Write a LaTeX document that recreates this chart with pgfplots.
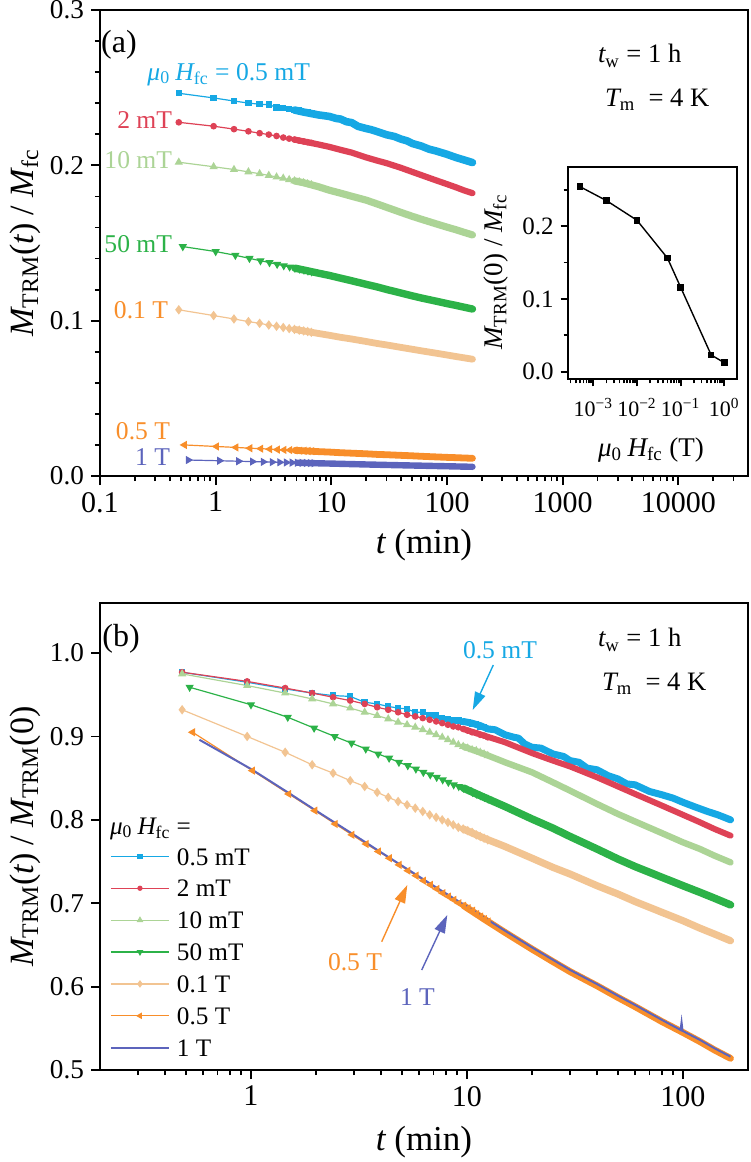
\documentclass[border=0pt]{standalone}
\usepackage{fontspec}
\setmainfont{Liberation Serif}
\usepackage{pgfplots}
\pgfplotsset{compat=1.18}
\usetikzlibrary{arrows.meta}
\definecolor{cA}{RGB}{22,168,228}
\definecolor{cB}{RGB}{222,66,86}
\definecolor{cC}{RGB}{172,212,150}
\definecolor{cD}{RGB}{44,178,72}
\definecolor{cE}{RGB}{242,196,146}
\definecolor{cF}{RGB}{248,142,42}
\definecolor{cG}{RGB}{92,100,188}
\newcommand{\fs}[1]{\fontsize{#1pt}{#1pt}\selectfont}
\newcommand{\muH}{{\itshape μ}\textsubscript{0}\hspace{0.2em}{\itshape H}\textsubscript{fc}}
\newcommand{\lgt}[1]{\fs{12.6}#1}
\pgfplotsset{
  myax/.style={scale only axis, anchor=south west,
    axis line style={line width=0.9pt},
    every tick/.style={black, line width=0.9pt},
    tick align=outside, xtick pos=left, ytick pos=left,
    major tick length=4.5pt, minor tick length=2.6pt,
    xticklabel style={font=\fs{15}},
    yticklabel style={font=\fs{13.6}},
  },
  band/.style={line width=#1, line cap=round, line join=round, forget plot, mark=none},
  ser/.style={line width=0.6pt},
  mA/.style={mark=square*, mark size=1.3pt},
  mB/.style={mark=*, mark size=1.35pt},
  mC/.style={mark=triangle*, mark size=1.8pt},
  mD/.style={mark=triangle*, mark size=1.8pt, mark options={rotate=180}},
  mE/.style={mark=diamond*, mark size=1.9pt},
  mF/.style={mark=triangle*, mark size=1.8pt, mark options={rotate=90}},
  mG/.style={mark=triangle*, mark size=1.8pt, mark options={rotate=-90}},
}
\begin{document}
\begin{tikzpicture}
\path[use as bounding box] (0,0) rectangle (375pt,-581pt);
% ---------------- panel (a)
\begin{axis}[myax, at={(50pt,-238pt)}, width=324pt, height=233pt,
  xmode=log, xmin=0.1, xmax=40000, ymin=0, ymax=0.3,
  xtick={0.1,1,10,100,1000,10000}, xticklabels={0.1,1,10,100,1000,10000},
  minor xtick={0.2,0.3,0.4,0.5,0.6,0.7,0.8,0.9,2,3,4,5,6,7,8,9,20,30,40,50,60,70,80,90,200,300,400,500,600,700,800,900,2000,3000,4000,5000,6000,7000,8000,9000,20000,30000},
  ytick={0,0.1,0.2,0.3}, yticklabels={0.0,0.1,0.2,0.3},
  minor ytick={0.02,0.04,0.06,0.08,0.12,0.14,0.16,0.18,0.22,0.24,0.26,0.28},
]
\addplot[cA, ser, mA] coordinates {(0.48,0.2464) (0.96,0.2434) (1.44,0.2414) (1.92,0.2401) (2.40,0.2393) (2.88,0.2391) (3.36,0.2373) (3.84,0.2368) (4.32,0.2361) (4.80,0.2356) (5.28,0.2353) (5.76,0.2343) (6.24,0.2343) (6.72,0.2335)};
\addplot[cA, band=3.8pt] coordinates {(4.80,0.2356) (5.76,0.2343) (7.68,0.2325) (9.6,0.2315) (11,0.2302) (12,0.2298) (13.5,0.2281) (15,0.2275) (17,0.2251) (20,0.2237) (22,0.2230) (25,0.2217) (30,0.2197) (35,0.2186) (40,0.2169) (45,0.2158) (50,0.2141) (60,0.2124) (70,0.2104) (80,0.2093) (100,0.2071) (120,0.2050) (140,0.2035) (166,0.2018)};
\addplot[cB, ser, mB] coordinates {(0.48,0.2277) (0.96,0.2252) (1.44,0.2233) (1.92,0.2219) (2.40,0.2207) (2.88,0.2198) (3.36,0.2189) (3.84,0.2179) (4.32,0.2172) (4.80,0.2166) (5.28,0.2159) (5.76,0.2154) (6.24,0.2149) (6.72,0.2145)};
\addplot[cB, band=3.1pt] coordinates {(4.80,0.2166) (5.76,0.2154) (7.68,0.2135) (9.6,0.2119) (12,0.2100) (15,0.2082) (20,0.2051) (25,0.2030) (30,0.2014) (40,0.1984) (50,0.1958) (60,0.1937) (80,0.1904) (100,0.1879) (120,0.1858) (140,0.1839) (166,0.1821)};
\addplot[cC, ser, mC] coordinates {(0.48,0.2020) (0.96,0.1991) (1.44,0.1973) (1.92,0.1958) (2.40,0.1946) (2.88,0.1935) (3.36,0.1925) (3.84,0.1917) (4.32,0.1908) (4.80,0.1900) (5.28,0.1894) (5.76,0.1888) (6.24,0.1881) (6.72,0.1875)};
\addplot[cC, band=3.6pt] coordinates {(4.80,0.1900) (5.76,0.1888) (7.68,0.1863) (9.6,0.1840) (12,0.1821) (15,0.1801) (20,0.1776) (25,0.1751) (30,0.1730) (40,0.1697) (50,0.1672) (60,0.1653) (80,0.1624) (100,0.1602) (120,0.1585) (140,0.1569) (166,0.1552)};
\addplot[cD, ser, mD] coordinates {(0.52,0.1477) (1.00,0.1445) (1.48,0.1421) (1.96,0.1401) (2.44,0.1386) (2.92,0.1374) (3.40,0.1363) (3.88,0.1354) (4.36,0.1346) (4.84,0.1338) (5.32,0.1332) (5.80,0.1326) (6.28,0.1320) (6.76,0.1315)};
\addplot[cD, band=3.7pt] coordinates {(4.84,0.1338) (5.80,0.1326) (7.72,0.1306) (9.64,0.1291) (12,0.1274) (15,0.1257) (20,0.1234) (25,0.1217) (30,0.1201) (40,0.1178) (50,0.1160) (60,0.1146) (80,0.1126) (100,0.1110) (120,0.1098) (140,0.1087) (166,0.1075)};
\addplot[cE, ser, mE] coordinates {(0.48,0.1070) (0.96,0.1033) (1.44,0.1011) (1.92,0.0994) (2.40,0.0983) (2.88,0.0972) (3.36,0.0964) (3.84,0.0956) (4.32,0.0949) (4.80,0.0944) (5.28,0.0939) (5.76,0.0934) (6.24,0.0930) (6.72,0.0925)};
\addplot[cE, band=3.4pt] coordinates {(4.80,0.0944) (5.76,0.0934) (7.68,0.0918) (9.6,0.0906) (12,0.0893) (15,0.0882) (20,0.0866) (25,0.0853) (30,0.0844) (40,0.0828) (50,0.0816) (60,0.0806) (80,0.0791) (100,0.0779) (120,0.0769) (140,0.0761) (166,0.0752)};
\addplot[cF, ser, mF] coordinates {(0.537,0.0200) (1.017,0.0190) (1.497,0.0184) (1.977,0.0179) (2.457,0.0176) (2.937,0.0173) (3.417,0.0170) (3.897,0.0168) (4.377,0.0167) (4.857,0.0165) (5.337,0.0163) (5.817,0.0162) (6.297,0.0161) (6.777,0.0160)};
\addplot[cF, band=3.4pt] coordinates {(4.857,0.0165) (5.817,0.0162) (7.74,0.0157) (9.66,0.0154) (12,0.0150) (15,0.0147) (20,0.0143) (25,0.0139) (30,0.0137) (40,0.0133) (50,0.0130) (60,0.0127) (80,0.0123) (100,0.0120) (120,0.0118) (140,0.0116) (166,0.0114)};
\addplot[cG, ser, mG] coordinates {(0.58,0.01029) (1.08,0.00983) (1.58,0.00951) (2.08,0.00928) (2.58,0.00909) (3.08,0.00894) (3.58,0.00882) (4.08,0.00871) (4.58,0.00862) (5.08,0.00854) (5.58,0.00846) (6.08,0.00839) (6.58,0.00833) (7.08,0.00828)};
\addplot[cG, band=3.2pt] coordinates {(5.08,0.00854) (6.08,0.00839) (8,0.00815) (10,0.00800) (12,0.00784) (15,0.00766) (20,0.00743) (25,0.00726) (30,0.00712) (40,0.00692) (50,0.00676) (60,0.00664) (80,0.00643) (100,0.00628) (120,0.00615) (140,0.00604) (166,0.00592)};
\end{axis}
% ---------------- inset
\begin{axis}[myax, at={(283.85pt,-189.65pt)}, width=84.5pt, height=106.3pt,
  xmode=log, xmin=2.6e-4, xmax=1.92, ymin=-0.0104, ymax=0.2815,
  major tick length=3.5pt, minor tick length=2pt,
  xticklabel style={font=\fs{11}, yshift=-2.5pt},
  yticklabel style={font=\fs{12.5}},
  xtick={1e-3,1e-2,1e-1,1}, xticklabels={10\textsuperscript{−3},10\textsuperscript{−2},10\textsuperscript{−1},10\textsuperscript{0}},
  minor xtick={3e-4,4e-4,5e-4,6e-4,7e-4,8e-4,9e-4,2e-3,3e-3,4e-3,5e-3,6e-3,7e-3,8e-3,9e-3,0.02,0.03,0.04,0.05,0.06,0.07,0.08,0.09,0.2,0.3,0.4,0.5,0.6,0.7,0.8,0.9},
  ytick={0,0.1,0.2}, yticklabels={0.0,0.1,0.2}, minor ytick={0.05,0.15,0.25},
]
\addplot[black, line width=0.7pt, mark=square*, mark size=1.3pt] coordinates {(5e-4,0.254) (2e-3,0.235) (1e-2,0.208) (5e-2,0.156) (0.1,0.116) (0.5,0.023) (1,0.0124)};
\end{axis}
% ---------------- panel (b)
\begin{axis}[myax, at={(50pt,-535pt)}, width=324pt, height=233.5pt,
  xmode=log, xmin=0.2, xmax=200, ymin=0.5, ymax=1.06,
  xtick={1,10,100}, xticklabels={1,10,100},
  minor xtick={0.3,0.4,0.5,0.6,0.7,0.8,0.9,2,3,4,5,6,7,8,9,20,30,40,50,60,70,80,90},
  ytick={0.5,0.6,0.7,0.8,0.9,1.0}, yticklabels={0.5,0.6,0.7,0.8,0.9,1.0},
  legend cell align=left,
  legend image code/.code={\draw[mark repeat=2,mark phase=2,#1,every mark/.append style={scale=0.75}] plot coordinates {(0pt,0pt) (14.5pt,0pt) (29pt,0pt)};},
  legend style={draw=none, fill=none, inner sep=0pt, outer sep=0pt, row sep=7.25pt,
    font=\fs{12.6}, nodes={inner sep=0pt, outer sep=0pt, text height=8.7pt, text depth=0pt},
    at={(axis description cs:0.0154,0.4762)}, anchor=north west,
    /tikz/every odd column/.append style={column sep=3.5pt}},
]
\addplot[cA, ser, mA] coordinates {(0.48,0.977) (0.96,0.965) (1.44,0.957) (1.92,0.952) (2.40,0.949) (2.88,0.948) (3.36,0.941) (3.84,0.939) (4.32,0.936) (4.80,0.934) (5.28,0.933) (5.76,0.929) (6.24,0.929) (6.72,0.926) (7.20,0.925) (7.68,0.922) (8.16,0.921) (8.64,0.919) (9.12,0.919) (9.60,0.917) (10.08,0.917) (10.56,0.915) (11.04,0.915) (11.52,0.912) (12.0,0.911) (12.48,0.909)};
\addlegendentry{\lgt{0.5 mT}}
\addplot[cA, band=3.5pt] coordinates {(9.6,0.918) (10.5,0.916) (11.5,0.913) (12.5,0.909) (13.5,0.908) (15,0.902) (16.5,0.899) (17.3,0.898) (18.5,0.891) (20,0.887) (22,0.886) (25,0.879) (28,0.876) (30,0.871) (33,0.869) (36,0.862) (40,0.860) (45,0.853) (50,0.849) (55,0.843) (60,0.842) (70,0.834) (80,0.830) (90,0.826) (100,0.821) (115,0.815) (130,0.810) (145,0.806) (166,0.800)};
\addplot[cB, ser, mB] coordinates {(0.48,0.977) (0.96,0.966) (1.44,0.958) (1.92,0.952) (2.40,0.947) (2.88,0.943) (3.36,0.939) (3.84,0.935) (4.32,0.932) (4.80,0.929) (5.28,0.926) (5.76,0.924) (6.24,0.922) (6.72,0.920) (7.20,0.918) (7.68,0.916) (8.16,0.914) (8.64,0.912) (9.12,0.911) (9.60,0.909) (10.08,0.907) (10.56,0.905) (11.04,0.904) (11.52,0.902) (12.0,0.901) (12.48,0.899)};
\addlegendentry{\lgt{2 mT}}
\addplot[cB, band=3pt] coordinates {(9.6,0.909) (12,0.901) (15,0.893) (20,0.880) (25,0.871) (30,0.864) (40,0.851) (50,0.840) (60,0.831) (80,0.817) (100,0.806) (120,0.797) (140,0.789) (166,0.781)};
\addplot[cC, ser, mC] coordinates {(0.48,0.975) (0.96,0.961) (1.44,0.952) (1.92,0.945) (2.40,0.939) (2.88,0.934) (3.36,0.929) (3.84,0.925) (4.32,0.921) (4.80,0.917) (5.28,0.914) (5.76,0.911) (6.24,0.908) (6.72,0.905) (7.20,0.902) (7.68,0.899) (8.16,0.896) (8.64,0.893) (9.12,0.890) (9.60,0.888) (10.08,0.886) (10.56,0.884) (11.04,0.883) (11.52,0.881) (12.0,0.879) (12.48,0.877)};
\addlegendentry{\lgt{10 mT}}
\addplot[cC, band=3.2pt] coordinates {(9.6,0.888) (12,0.879) (15,0.869) (20,0.857) (25,0.845) (30,0.835) (40,0.819) (50,0.807) (60,0.798) (80,0.784) (100,0.773) (120,0.765) (140,0.757) (166,0.749)};
\addplot[cD, ser, mD] coordinates {(0.52,0.959) (1.00,0.938) (1.48,0.923) (1.96,0.910) (2.44,0.900) (2.92,0.892) (3.40,0.885) (3.88,0.879) (4.36,0.874) (4.84,0.869) (5.32,0.865) (5.80,0.861) (6.28,0.857) (6.76,0.854) (7.24,0.851) (7.72,0.848) (8.20,0.845) (8.68,0.842) (9.16,0.840) (9.64,0.838) (10.12,0.836) (10.60,0.833) (11.08,0.831) (11.56,0.829) (12.04,0.827) (12.52,0.825)};
\addlegendentry{\lgt{50 mT}}
\addplot[cD, band=3.8pt] coordinates {(9.64,0.838) (12,0.827) (15,0.816) (20,0.801) (25,0.790) (30,0.780) (40,0.765) (50,0.753) (60,0.744) (80,0.731) (100,0.721) (120,0.713) (140,0.706) (166,0.698)};
\addplot[cE, ser, mE] coordinates {(0.48,0.932) (0.96,0.900) (1.44,0.881) (1.92,0.866) (2.40,0.856) (2.88,0.847) (3.36,0.840) (3.84,0.833) (4.32,0.827) (4.80,0.822) (5.28,0.818) (5.76,0.814) (6.24,0.810) (6.72,0.806) (7.20,0.803) (7.68,0.800) (8.16,0.797) (8.64,0.794) (9.12,0.791) (9.60,0.789) (10.08,0.787) (10.56,0.785) (11.04,0.782) (11.52,0.780) (12.0,0.778) (12.48,0.776)};
\addlegendentry{\lgt{0.1 T}}
\addplot[cE, band=3.6pt] coordinates {(9.6,0.789) (12,0.778) (15,0.768) (20,0.754) (25,0.743) (30,0.735) (40,0.721) (50,0.711) (60,0.702) (80,0.689) (100,0.679) (120,0.670) (140,0.663) (166,0.655)};
\addplot[cF, ser, mF] coordinates {(0.537,0.905) (1.017,0.859) (1.497,0.831) (1.977,0.811) (2.457,0.795) (2.937,0.782) (3.417,0.771) (3.897,0.762) (4.377,0.754) (4.857,0.746) (5.337,0.739) (5.817,0.733) (6.297,0.727) (6.777,0.722) (7.257,0.717) (7.737,0.712) (8.217,0.708) (8.697,0.704) (9.177,0.700) (9.657,0.697) (10.137,0.694) (10.617,0.691) (11.097,0.687) (11.577,0.684) (12.057,0.681) (12.537,0.678)};
\addlegendentry{\lgt{0.5 T}}
\addplot[cF, band=3.4pt] coordinates {(9.66,0.697) (12,0.681) (15,0.665) (20,0.645) (25,0.630) (30,0.618) (40,0.601) (50,0.587) (60,0.576) (80,0.558) (100,0.545) (120,0.534) (140,0.524) (166,0.514)};
\addplot[cG, line width=1pt, mark=none] coordinates {(0.577,0.896) (1.0,0.861) (1.5,0.832) (2,0.811) (3,0.782) (4,0.761) (5,0.745) (7,0.721) (10,0.696) (15,0.667) (20,0.647) (30,0.620) (40,0.603) (50,0.589) (60,0.578) (80,0.560) (97.5,0.548) (98.5,0.557) (99.5,0.547) (120,0.536) (140,0.526) (166,0.516)};
\addlegendentry{\lgt{1 T}}
\end{axis}
% ---------------- texts (pixel coordinates of the reference)
\begin{scope}[x=0.5pt, y=-0.5pt, every node/.style={inner sep=0pt, outer sep=0pt}]
\node[font=\fs{17}, rotate=90, anchor=base] at (33,243) {{\itshape M}\textsubscript{TRM}({\itshape t}) / {\itshape M}\textsubscript{fc}};
\node[font=\fs{17.5}, anchor=base] at (424,553) {{\itshape t} (min)};
\node[font=\fs{16}] at (119,45) {(a)};
\node[cA, font=\fs{12.8}, anchor=base east] at (310,80) {\muH\ = 0.5 mT};
\node[cB, font=\fs{12.8}, anchor=base east] at (172,128.3) {2 mT};
\node[cC, font=\fs{12.8}, anchor=base east] at (172,168.3) {10 mT};
\node[cD, font=\fs{12.8}, anchor=base east] at (172,252.3) {50 mT};
\node[cF, font=\fs{12.8}, anchor=base east] at (168,318.3) {0.1 T};
\node[cF, font=\fs{12.8}, anchor=base east] at (170,439.3) {0.5 T};
\node[cG, font=\fs{12.8}, anchor=base east] at (170,465) {1 T};
\node[font=\fs{13.3}, anchor=base west] at (598,62.7) {{\itshape t}\textsubscript{w} = 1 h};
\node[font=\fs{13.3}, anchor=base west] at (605,106) {{\itshape T}\textsubscript{m}\ \ = 4 K};
\node[font=\fs{13.5}, rotate=90, anchor=base] at (502,272) {{\itshape M}\textsubscript{TRM}(0) / {\itshape M}\textsubscript{fc}};
\node[font=\fs{13.5}, anchor=base] at (651,456) {\muH\ (T)};
% panel b
\node[font=\fs{17}, rotate=90, anchor=base] at (33,836.5) {{\itshape M}\textsubscript{TRM}({\itshape t}) / {\itshape M}\textsubscript{TRM}(0)};
\node[font=\fs{17.5}, anchor=base] at (424,1150) {{\itshape t} (min)};
\node[font=\fs{16}] at (121,639) {(b)};
\node[font=\fs{13.3}, anchor=base west] at (598,646.7) {{\itshape t}\textsubscript{w} = 1 h};
\node[font=\fs{13.3}, anchor=base west] at (602,690) {{\itshape T}\textsubscript{m}\ \ = 4 K};
\node[font=\fs{12.6}, anchor=base west] at (110,834) {\muH\ =};
\node[cA, font=\fs{12.8}, anchor=base west] at (463,658.3) {0.5 mT};
\node[cF, font=\fs{12.8}, anchor=base west] at (328,970) {0.5 T};
\node[cG, font=\fs{12.8}, anchor=base west] at (400,1005) {1 T};
\draw[cA, line width=0.7pt, -{Triangle[length=9pt,width=5.5pt]}] (493.3,665) -- (472.7,710);
\draw[cF, line width=0.7pt, -{Triangle[length=9pt,width=5.5pt]}] (381.7,941.7) -- (407.3,885);
\draw[cG, line width=0.7pt, -{Triangle[length=9pt,width=5.5pt]}] (421.7,970) -- (447.3,915);
\end{scope}
\end{tikzpicture}
\end{document}
